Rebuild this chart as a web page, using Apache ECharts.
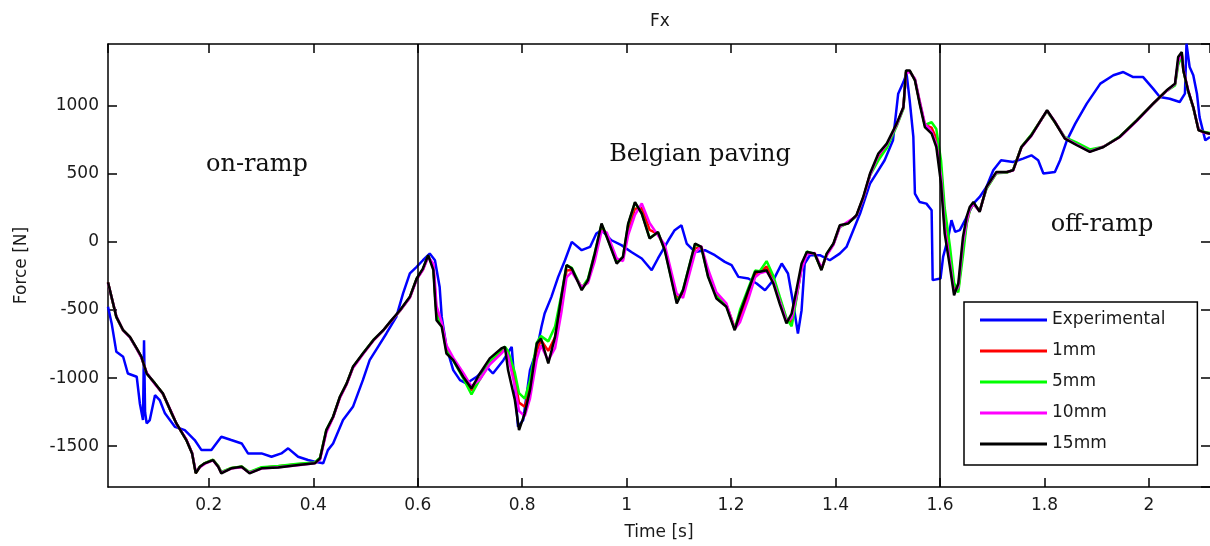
<!DOCTYPE html>
<html>
<head>
<meta charset="utf-8">
<title>Fx</title>
<script src="https://cdn.jsdelivr.net/npm/echarts@6/dist/echarts.min.js"></script>
<style>
  html, body { margin: 0; padding: 0; background: #fff; }
  #Fx { width: 1210px; height: 546px; }
</style>
</head>
<body>
<div id="Fx"></div>
<script>
// measured force, time in s, force in N
var tExp = [0.007,0.014,0.023,0.036,0.045,0.062,0.068,0.074,0.076,0.078,
  0.081,0.087,0.097,0.106,0.116,0.135,0.154,0.173,0.186,0.205,
  0.224,0.243,0.263,0.275,0.301,0.320,0.339,0.352,0.371,0.390,
  0.403,0.419,0.428,0.438,0.457,0.476,0.495,0.508,0.524,0.540,
  0.559,0.572,0.585,0.598,0.610,0.623,0.633,0.642,0.646,0.655,
  0.668,0.681,0.693,0.713,0.732,0.744,0.764,0.780,0.786,0.792,
  0.802,0.815,0.828,0.837,0.843,0.856,0.869,0.882,0.895,0.914,
  0.930,0.942,0.952,0.971,0.990,1.009,1.029,1.048,1.060,1.080,
  1.092,1.105,1.115,1.131,1.150,1.169,1.188,1.201,1.214,1.233,
  1.249,1.265,1.281,1.297,1.309,1.319,1.328,1.335,1.341,1.351,
  1.370,1.389,1.408,1.421,1.434,1.447,1.466,1.482,1.494,1.510,
  1.520,1.530,1.536,1.542,1.549,1.552,1.561,1.574,1.584,1.586,
  1.601,1.606,1.616,1.622,1.629,1.638,1.651,1.664,1.676,1.689,
  1.702,1.717,1.740,1.759,1.775,1.788,1.798,1.820,1.830,1.843,
  1.859,1.881,1.907,1.932,1.951,1.970,1.989,2.008,2.021,2.040,
  2.059,2.069,2.072,2.078,2.085,2.092,2.097,2.108,2.117];
var fExp = [-476,-598,-807,-843,-966,-990,-1186,-1308,-721,-1250,
  -1333,-1308,-1125,-1161,-1259,-1357,-1382,-1455,-1529,-1529,
  -1431,-1455,-1480,-1553,-1553,-1578,-1553,-1516,-1578,-1602,
  -1614,-1626,-1529,-1480,-1308,-1211,-1015,-868,-770,-672,
  -550,-378,-231,-183,-134,-85,-134,-330,-550,-770,
  -941,-1015,-1039,-990,-917,-966,-868,-770,-1064,-1357,
  -1308,-941,-794,-623,-525,-403,-256,-134,1,-60,
  -36,62,87,13,-23,-73,-121,-207,-121,13,
  87,123,-11,-73,-60,-97,-146,-170,-256,-268,
  -305,-354,-280,-158,-231,-452,-672,-501,-158,-97,
  -97,-134,-85,-36,87,209,429,527,601,747,
  1090,1175,1237,1041,772,356,294,282,233,-280,
  -268,-109,37,160,74,87,184,282,331,405,
  527,601,588,613,637,601,503,515,601,747,
  870,1017,1164,1225,1249,1212,1212,1127,1066,1053,
  1029,1090,1457,1286,1225,1090,918,747,772];

// simulated force, all mesh sizes share one time base
var tModel = [0.007,0.023,0.036,0.049,0.062,0.071,0.081,0.097,0.112,0.129,
  0.138,0.157,0.168,0.175,0.183,0.192,0.208,0.218,0.224,0.243,
  0.263,0.278,0.301,0.333,0.371,0.403,0.413,0.425,0.438,0.451,
  0.464,0.476,0.495,0.515,0.534,0.547,0.566,0.585,0.598,0.610,
  0.620,0.630,0.633,0.636,0.646,0.655,0.668,0.687,0.703,0.719,
  0.738,0.760,0.767,0.773,0.786,0.794,0.805,0.815,0.828,0.836,
  0.850,0.863,0.875,0.885,0.895,0.914,0.926,0.939,0.952,0.962,
  0.981,0.993,1.003,1.016,1.029,1.044,1.060,1.073,1.096,1.108,
  1.131,1.143,1.156,1.172,1.191,1.207,1.217,1.233,1.246,1.255,
  1.268,1.281,1.293,1.306,1.316,1.325,1.335,1.345,1.360,1.373,
  1.383,1.396,1.408,1.424,1.440,1.453,1.466,1.482,1.498,1.517,
  1.530,1.535,1.542,1.552,1.561,1.571,1.584,1.593,1.602,1.609,
  1.619,1.627,1.635,1.644,1.651,1.657,1.664,1.676,1.689,1.708,
  1.728,1.740,1.756,1.775,1.795,1.805,1.820,1.839,1.862,1.887,
  1.913,1.944,1.977,2.008,2.034,2.050,2.056,2.063,2.066,2.075,
  2.085,2.095,2.104,2.117];
var f1mm = [-298,-552,-649,-699,-784,-846,-964,-1041,-1114,-1259,
  -1334,-1453,-1551,-1697,-1651,-1627,-1601,-1647,-1693,-1662,
  -1652,-1693,-1658,-1648,-1633,-1622,-1588,-1390,-1287,-1142,
  -1042,-922,-822,-722,-650,-590,-505,-407,-272,-202,
  -105,-175,-350,-510,-600,-780,-860,-980,-1090,-1005,
  -890,-805,-780,-820,-1010,-1180,-1210,-1080,-800,-720,
  -800,-700,-450,-210,-205,-335,-285,-110,110,55,
  -135,-125,90,245,250,90,60,-40,-410,-380,
  -45,-35,-225,-385,-460,-630,-560,-380,-235,-225,
  -180,-270,-415,-570,-590,-410,-190,-80,-85,-200,
  -95,-15,115,140,192,325,495,630,710,860,
  985,1250,1255,1195,1030,860,840,760,540,180,
  -90,-340,-350,-40,140,235,282,228,395,508,
  512,528,698,786,906,964,882,765,720,670,
  700,772,893,1016,1112,1158,1320,1380,1262,1112,
  988,826,808,798];
var f5mm = [-300,-550,-650,-700,-785,-845,-965,-1040,-1115,-1260,
  -1335,-1455,-1550,-1695,-1650,-1625,-1600,-1645,-1690,-1660,
  -1650,-1690,-1655,-1645,-1630,-1620,-1585,-1380,-1285,-1140,
  -1040,-920,-820,-720,-650,-590,-505,-405,-270,-200,
  -100,-190,-380,-540,-610,-800,-870,-1000,-1120,-1010,
  -880,-790,-770,-800,-960,-1110,-1150,-1020,-740,-690,
  -730,-620,-390,-170,-190,-340,-270,-80,130,40,
  -150,-110,130,290,210,30,70,-55,-440,-350,
  -15,-40,-250,-400,-470,-640,-500,-340,-210,-215,
  -140,-250,-400,-560,-620,-420,-180,-70,-90,-200,
  -90,-15,110,140,190,320,490,600,690,850,
  980,1250,1255,1195,1030,860,880,830,600,250,
  -30,-300,-370,-100,130,230,280,230,390,505,
  510,530,700,790,905,960,880,770,730,680,
  700,775,895,1015,1110,1150,1300,1370,1260,1110,
  985,830,810,800];
var f10mm = [-300,-545,-650,-700,-785,-850,-960,-1045,-1115,-1255,
  -1335,-1450,-1550,-1690,-1655,-1630,-1605,-1650,-1695,-1665,
  -1655,-1695,-1665,-1655,-1640,-1625,-1600,-1400,-1290,-1145,
  -1045,-925,-825,-725,-650,-590,-505,-410,-275,-205,
  -110,-160,-300,-470,-590,-760,-850,-960,-1060,-1010,
  -900,-820,-790,-840,-1060,-1240,-1280,-1150,-860,-760,
  -870,-780,-520,-260,-220,-330,-300,-140,80,70,
  -120,-140,50,200,283,140,50,-20,-380,-410,
  -80,-30,-200,-370,-450,-640,-590,-420,-260,-230,
  -215,-290,-430,-580,-560,-400,-200,-90,-80,-190,
  -100,-20,110,150,190,320,490,640,715,860,
  990,1240,1250,1200,1040,870,810,720,480,110,
  -150,-370,-330,-10,150,240,280,225,400,510,
  515,525,695,780,905,965,885,765,715,665,
  700,770,890,1015,1110,1160,1330,1380,1270,1120,
  990,830,805,795];
var f15mm = [-295,-550,-648,-697,-782,-843,-966,-1039,-1112,-1259,
  -1333,-1455,-1553,-1700,-1651,-1626,-1602,-1651,-1700,-1663,
  -1651,-1700,-1663,-1656,-1639,-1626,-1590,-1382,-1284,-1137,
  -1039,-917,-819,-721,-648,-587,-501,-403,-268,-195,
  -97,-207,-403,-574,-623,-819,-868,-990,-1076,-966,
  -855,-782,-770,-941,-1161,-1382,-1259,-1088,-745,-709,
  -892,-697,-403,-170,-195,-354,-280,-85,136,37,
  -158,-109,136,294,209,26,74,-60,-452,-354,
  -11,-36,-256,-415,-476,-648,-525,-354,-219,-219,
  -207,-305,-452,-598,-525,-354,-158,-73,-85,-207,
  -85,-11,123,136,197,331,503,650,723,870,
  992,1261,1261,1188,1017,845,796,698,429,62,
  -183,-391,-305,37,184,258,294,221,405,515,
  515,527,698,784,907,968,882,760,711,662,
  698,772,894,1017,1115,1164,1359,1396,1261,1115,
  992,821,809,796];

var seriesNames = ["Experimental", "1mm", "5mm", "10mm", "15mm"];
var seriesColors = ["#0000ff", "#ff0000", "#00ff00", "#ff00ff", "#000000"];
var sectionBounds = [0.6, 1.6];

function pairs(t, f) {
    var out = [];
    for (var i = 0; i < t.length; i++) out.push([t[i], f[i]]);
    return out;
}

var seriesData = [
    pairs(tExp, fExp),
    pairs(tModel, f1mm),
    pairs(tModel, f5mm),
    pairs(tModel, f10mm),
    pairs(tModel, f15mm)
];

var txt = "#1a1a1a";
var sans = "DejaVu Sans";
var serif = "DejaVu Serif";
var plain = function(v){ return String(v); };

var series = seriesNames.map(function(name, i){
    return {
        name: name,
        type: "line",
        data: seriesData[i],
        symbol: "none",
        color: seriesColors[i],
        lineStyle: { width: 2.5, color: seriesColors[i] },
        clip: true
    };
});
series[series.length - 1].markLine = {
    silent: true,
    symbol: "none",
    label: { show: false },
    lineStyle: { color: "#000", width: 1.5, type: "solid" },
    data: sectionBounds.map(function(x){ return { xAxis: x }; })
};

var Fx = echarts.init(document.getElementById("Fx"));

var FxOption = {
    animation: false,
    backgroundColor: "#fff",
    title: {
        text: "Fx",
        left: 645,
        top: 8,
        textStyle: { color: txt, fontWeight: "normal", fontFamily: sans, fontSize: 17 }
    },
    grid: { left: 108, right: 0, top: 44, bottom: 59 },
    legend: {
        orient: "vertical",
        left: 964,
        top: 302,
        padding: [8, 32, 11, 16],
        itemGap: 11,
        itemWidth: 67,
        itemHeight: 3,
        icon: "rect",
        borderColor: "#000",
        borderWidth: 1.5,
        backgroundColor: "#fff",
        textStyle: { color: txt, fontFamily: sans, fontSize: 17, lineHeight: 20 },
        data: seriesNames
    },
    xAxis: [{
        type: "value",
        position: "bottom",
        min: 0.007,
        max: 2.117,
        splitNumber: 10,
        name: "Time [s]",
        nameLocation: "middle",
        nameGap: 37,
        nameTextStyle: { color: txt, fontFamily: sans, fontSize: 17 },
        axisLine: { onZero: false, lineStyle: { color: "#000", width: 1.5 } },
        axisTick: { inside: true, length: 9, lineStyle: { color: "#000", width: 1.5 } },
        axisLabel: { color: txt, fontFamily: sans, fontSize: 17, margin: 10, showMinLabel: false, showMaxLabel: false, formatter: plain },
        splitLine: { show: false }
    }, {
        type: "value",
        position: "top",
        min: 0.007,
        max: 2.117,
        splitNumber: 10,
        axisLine: { onZero: false, lineStyle: { color: "#000", width: 1.5 } },
        axisTick: { inside: true, length: 9, lineStyle: { color: "#000", width: 1.5 } },
        axisLabel: { show: false },
        splitLine: { show: false }
    }],
    yAxis: [{
        type: "value",
        position: "left",
        min: -1800,
        max: 1455,
        splitNumber: 6,
        name: "Force [N]",
        nameLocation: "middle",
        nameGap: 78,
        nameTextStyle: { color: txt, fontFamily: sans, fontSize: 17 },
        axisLine: { onZero: false, lineStyle: { color: "#000", width: 1.5 } },
        axisTick: { inside: true, length: 9, lineStyle: { color: "#000", width: 1.5 } },
        axisLabel: { color: txt, fontFamily: sans, fontSize: 17, margin: 9, showMinLabel: false, showMaxLabel: false, formatter: plain },
        splitLine: { show: false }
    }, {
        type: "value",
        position: "right",
        min: -1800,
        max: 1455,
        splitNumber: 6,
        axisLine: { show: false, onZero: false },
        axisTick: { show: true, inside: true, length: 9, lineStyle: { color: "#000", width: 1.5 } },
        axisLabel: { show: false },
        splitLine: { show: false }
    }],
    graphic: [
        { type: "text", x: 257, y: 165, style: { text: "on-ramp", fill: "#111", font: "24px '" + serif + "'", align: "center", verticalAlign: "middle" } },
        { type: "text", x: 700, y: 155, style: { text: "Belgian paving", fill: "#111", font: "24px '" + serif + "'", align: "center", verticalAlign: "middle" } },
        { type: "text", x: 1102, y: 225, style: { text: "off-ramp", fill: "#111", font: "24px '" + serif + "'", align: "center", verticalAlign: "middle" } }
    ],
    series: series
};

Fx.setOption(FxOption);
</script>
</body>
</html>
